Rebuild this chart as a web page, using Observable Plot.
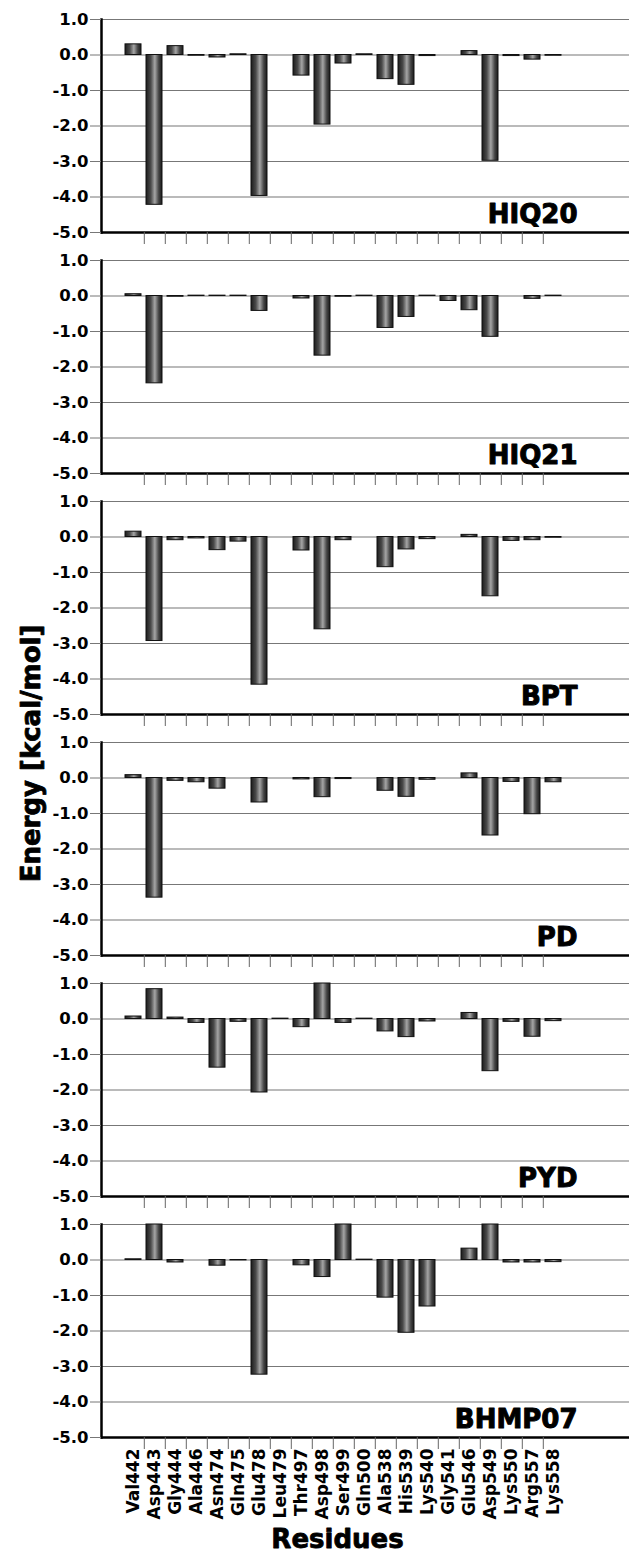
<!DOCTYPE html>
<html><head><meta charset="utf-8">
<script src="https://cdn.jsdelivr.net/npm/d3@7"></script>
<script src="https://cdn.jsdelivr.net/npm/@observablehq/plot@0.6"></script>
<style>body{margin:0;background:#fff} svg{display:block}</style>
</head><body><div id="chart"></div>
<script>
const residues = ["Val442","Asp443","Gly444","Ala446","Asn474","Gln475","Glu478","Leu479","Thr497","Asp498","Ser499","Gln500","Ala538","His539","Lys540","Gly541","Glu546","Asp549","Lys550","Arg557","Lys558"];
const panels = ["HIQ20","HIQ21","BPT","PD","PYD","BHMP07"];
const hiq20  = [0.30,-4.22,0.25,-0.02,-0.07,0.02,-3.97,0,-0.58,-1.96,-0.24,0.02,-0.68,-0.84,-0.03,0,0.11,-2.98,-0.03,-0.13,-0.02];
const hiq21  = [0.05,-2.46,-0.02,0.01,0.01,0.01,-0.42,0,-0.07,-1.68,-0.02,0.01,-0.90,-0.59,0.01,-0.14,-0.40,-1.15,0,-0.08,0.01];
const bpt    = [0.15,-2.93,-0.09,-0.04,-0.37,-0.13,-4.16,0,-0.38,-2.60,-0.09,0,-0.85,-0.35,-0.06,0,0.06,-1.67,-0.11,-0.09,-0.02];
const pd     = [0.08,-3.37,-0.08,-0.12,-0.30,0,-0.69,0,-0.04,-0.54,-0.03,0,-0.36,-0.53,-0.05,0,0.13,-1.62,-0.11,-1.02,-0.12];
const pyd    = [0.07,0.84,0.04,-0.11,-1.37,-0.08,-2.07,0.01,-0.23,1.0,-0.11,0.01,-0.35,-0.51,-0.07,0,0.17,-1.47,-0.08,-0.50,-0.06];
const bhmp07 = [0.02,1.0,-0.07,0,-0.16,-0.01,-3.23,0,-0.15,-0.48,1.0,0.01,-1.06,-2.05,-1.31,0,0.32,1.0,-0.07,-0.07,-0.06];
const yTicks = [-5,-4,-3,-2,-1,0,1];
const gridTicks = [-4,-3,-2,-1,0,1];
const yLabel = "Energy [kcal/mol]";
const xLabel = "Residues";

const series = {HIQ20: hiq20, HIQ21: hiq21, BPT: bpt, PD: pd, PYD: pyd, BHMP07: bhmp07};
const data = panels.flatMap(p => residues.map((r, i) => ({panel: p, residue: r, energy: series[p][i]})));

const xRange = [116.5, 570];
const step = (xRange[1] - xRange[0]) / residues.length;
const font = "'DejaVu Sans', Verdana, sans-serif";

const chart = Plot.plot({
  width: 629, height: 1553,
  marginLeft: 101, marginRight: 0, marginTop: 19, marginBottom: 116,
  style: {fontFamily: font, background: "white", color: "black"},
  x: {type: "band", domain: residues, range: xRange, paddingInner: 0.23, paddingOuter: 0.115},
  y: {domain: [-5, 1]},
  fy: {domain: panels, paddingInner: 0.117, paddingOuter: 0, axis: null},
  marks: [
    Plot.ruleY(gridTicks, {stroke: "#777", strokeWidth: 1.2}),
    Plot.barY(data, {x: "residue", y: "energy", fy: "panel", fill: "url(#cyl)", stroke: "#111", strokeWidth: 1}),
    Plot.ruleY([-5], {stroke: "black", strokeWidth: 2.5}),
    Plot.frame({anchor: "left", stroke: "black", strokeWidth: 2.5}),
    Plot.ruleX(residues.slice(0, -1), {x: d => d, y1: -5, y2: -5, insetBottom: -12, dx: step / 2, stroke: "#666"}),
    Plot.axisY({ticks: yTicks, tickSize: 11, text: null, stroke: "#777", label: null}),
    Plot.axisY({ticks: yTicks, tickSize: 0, tickPadding: 13, tickFormat: d => d.toFixed(1), fontSize: 16.5, fontWeight: "bold", fill: "black", stroke: "black", strokeWidth: 0.3, label: null}),
    Plot.axisX({tickSize: 0, tickPadding: 11, tickRotate: -90, fontSize: 17, fontWeight: "bold", fill: "black", stroke: "black", strokeWidth: 0.2, label: null}),
    Plot.text(panels, {fy: d => d, text: d => d, frameAnchor: "bottom-right", lineAnchor: "bottom", dx: -52, dy: -10, fontSize: 26, fontWeight: "bold", fill: "black", stroke: "black", strokeWidth: 1}),
    Plot.text([yLabel], {fy: () => "PD", text: d => d, frameAnchor: "top-left", rotate: -90, textAnchor: "middle", dx: -80, dy: 11, fontSize: 26, fontWeight: "bold", fill: "black", stroke: "black", strokeWidth: 0.8}),
    Plot.text([xLabel], {fy: () => "BHMP07", x: () => residues[10], text: d => d, frameAnchor: "bottom", lineAnchor: "bottom", dx: -6, dy: 110, fontSize: 26, fontWeight: "bold", fill: "black", stroke: "black", strokeWidth: 0.8})
  ]
});

d3.select(chart).insert("defs", ":first-child").html(`
  <linearGradient id="cyl" x1="0" x2="1" y1="0" y2="0">
    <stop offset="0" stop-color="#1c1c1c"/>
    <stop offset="0.3" stop-color="#4a4a4a"/>
    <stop offset="0.55" stop-color="#a5a5a5"/>
    <stop offset="0.8" stop-color="#444"/>
    <stop offset="1" stop-color="#1a1a1a"/>
  </linearGradient>`);
document.getElementById("chart").appendChild(chart);
</script>
</body></html>
